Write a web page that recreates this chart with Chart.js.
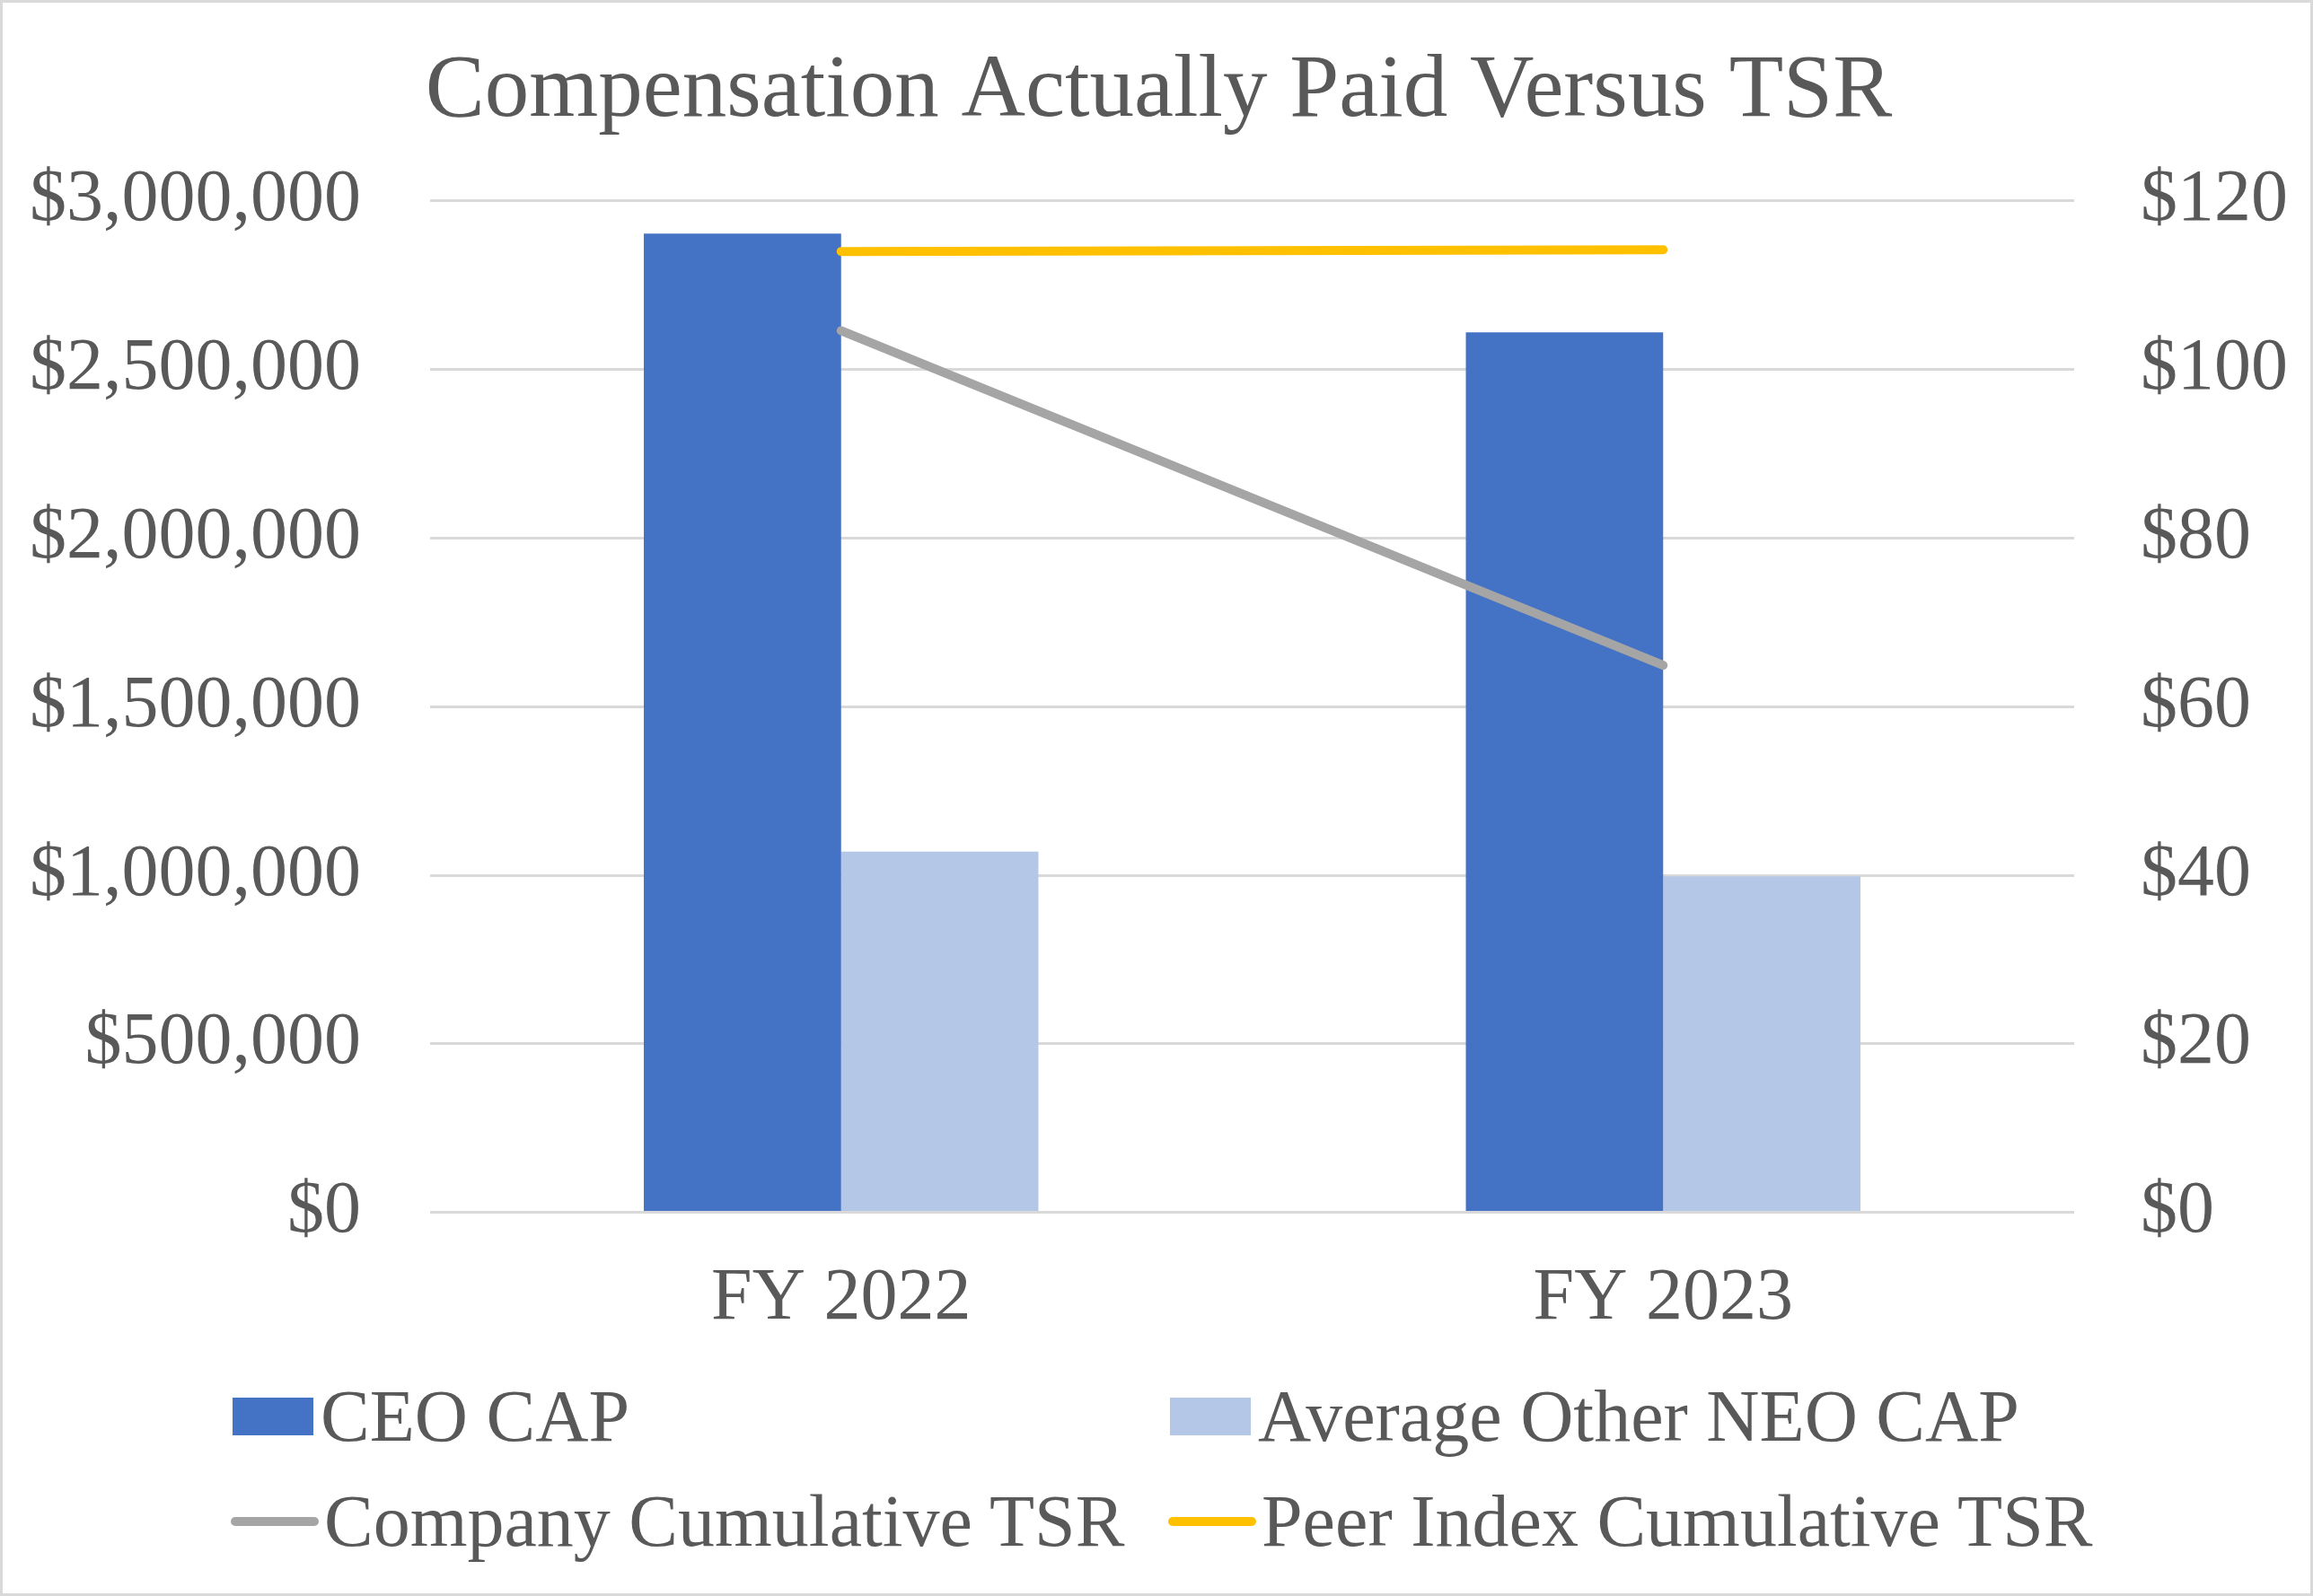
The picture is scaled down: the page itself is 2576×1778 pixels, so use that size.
<!DOCTYPE html>
<html>
<head>
<meta charset="utf-8">
<script src="https://cdn.jsdelivr.net/npm/chart.js@4.4.1/dist/chart.umd.min.js"></script>
<style>
  html, body { margin: 0; padding: 0; background: #fff; }
  #wrap {
    position: relative;
    width: 2576px;
    height: 1778px;
    box-sizing: border-box;
    border: 3px solid #d9d9d9;
    background: #fff;
  }
  #legend {
    position: absolute;
    left: 0; top: 0; width: 100%; height: 100%;
    pointer-events: none;
    font-family: "Liberation Serif", "Times New Roman", serif;
    font-size: 82px;
    color: #595959;
  }
  .item { position: absolute; display: flex; align-items: center; white-space: nowrap; }
  .mark { display: inline-block; margin-right: 8px; }
</style>
</head>
<body>
<div id="wrap">
  <canvas id="capChart"></canvas>
  <div id="legend"></div>
</div>
<script>
const categories = ["FY 2022", "FY 2023"];
const ceoCap = [2903000, 2610000];
const neoCap = [1070000, 997000];
const companyTsr = [104.6, 64.9];
const peerTsr = [114.0, 114.2];

const textColor = "#595959";
const fontFamily = "'Liberation Serif', 'Times New Roman', serif";

function money(v) {
  return "$" + Number(v).toLocaleString("en-US");
}

const canvas = document.getElementById("capChart");

const capChart = new Chart(canvas, {
  type: "bar",

  data: {
    labels: categories,

    datasets: [
      {
        label: "CEO CAP",
        data: ceoCap,
        backgroundColor: "#4472C4",
        borderWidth: 0,
        yAxisID: "y",
        order: 2
      },
      {
        label: "Average Other NEO CAP",
        data: neoCap,
        backgroundColor: "#B4C7E7",
        borderWidth: 0,
        yAxisID: "y",
        order: 2
      },
      {
        type: "line",
        label: "Company Cumulative TSR",
        data: companyTsr,
        borderColor: "#A5A5A5",
        backgroundColor: "#A5A5A5",
        borderWidth: 10,
        borderCapStyle: "round",
        pointRadius: 0,
        tension: 0,
        fill: false,
        yAxisID: "y1",
        order: 1
      },
      {
        type: "line",
        label: "Peer Index Cumulative TSR",
        data: peerTsr,
        borderColor: "#FFC000",
        backgroundColor: "#FFC000",
        borderWidth: 10,
        borderCapStyle: "round",
        pointRadius: 0,
        tension: 0,
        fill: false,
        yAxisID: "y1",
        order: 1
      }
    ]
  },

  options: {
    responsive: true,
    maintainAspectRatio: false,
    animation: false,
    devicePixelRatio: 1,

    layout: {
      padding: { left: 30, right: 25, top: 0, bottom: 230 }
    },

    datasets: {
      bar: {
        categoryPercentage: 0.48,
        barPercentage: 1.0
      }
    },

    plugins: {
      legend: { display: false },
      tooltip: { enabled: false },
      title: {
        display: true,
        text: "Compensation Actually Paid Versus TSR",
        color: textColor,
        font: { family: fontFamily, size: 99, weight: "normal" },
        padding: { top: 41, bottom: 61 }
      }
    },

    scales: {
      x: {
        grid: { display: false, drawTicks: false },
        border: { display: false },
        ticks: {
          color: textColor,
          font: { family: fontFamily, size: 82 },
          padding: 48
        }
      },
      y: {
        position: "left",
        min: 0,
        max: 3000000,
        grid: { color: "#d9d9d9", lineWidth: 3, drawTicks: false },
        border: { display: false },
        ticks: {
          stepSize: 500000,
          color: textColor,
          font: { family: fontFamily, size: 82 },
          padding: 77,
          callback: money
        },
        afterFit: (scale) => { scale.width -= 77; }
      },
      y1: {
        position: "right",
        min: 0,
        max: 120,
        grid: { display: false, drawTicks: false },
        border: { display: false },
        ticks: {
          stepSize: 20,
          color: textColor,
          font: { family: fontFamily, size: 82 },
          padding: 74,
          callback: money
        },
        afterFit: (scale) => { scale.width -= 74; }
      }
    }
  }
});

// legend laid out in two columns like the original
const legendPos = [
  { x: 256, y: 1575 },
  { x: 1300, y: 1575 },
  { x: 254, y: 1692 },
  { x: 1298, y: 1692 }
];
const legendBox = document.getElementById("legend");
capChart.data.datasets.forEach((ds, i) => {
  const item = document.createElement("div");
  item.className = "item";
  item.style.left = legendPos[i].x + "px";
  item.style.top = (legendPos[i].y - 55) + "px";
  item.style.height = "110px";
  const mark = document.createElement("span");
  mark.className = "mark";
  if (ds.type === "line") {
    mark.style.width = "98px";
    mark.style.height = "10px";
    mark.style.borderRadius = "5px";
    mark.style.background = ds.borderColor;
    mark.style.marginRight = "6px";
  } else {
    mark.style.width = "90px";
    mark.style.height = "42px";
    mark.style.background = ds.backgroundColor;
  }
  const txt = document.createElement("span");
  txt.textContent = ds.label;
  item.appendChild(mark);
  item.appendChild(txt);
  legendBox.appendChild(item);
});
</script>
</body>
</html>
